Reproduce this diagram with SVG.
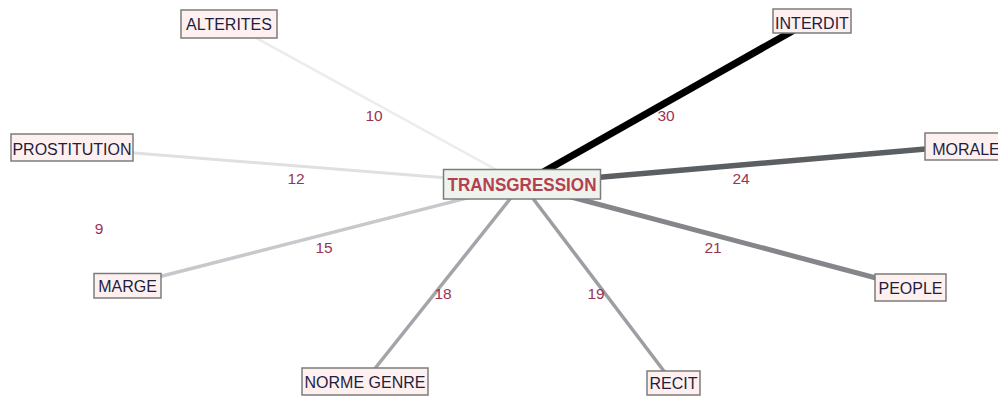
<svg xmlns="http://www.w3.org/2000/svg" width="998" height="396" viewBox="0 0 998 396">
<style>
.n rect{fill:#fff0f0;stroke:#7c7c7c;stroke-width:1.5}
.n text{font-family:"Liberation Sans",Arial,sans-serif;font-size:16px;fill:#1e1e40;text-anchor:middle}
.c text{font-family:"Liberation Sans",Arial,sans-serif;font-size:15.5px;fill:#993355;text-anchor:middle}
.c line{stroke-linecap:butt}
#n-trans rect{fill:#eef3ee}
#n-trans text{fill:#b5404e;font-weight:bold;font-size:18.5px}
</style>
<rect width="998" height="396" fill="#ffffff"/>
<g id="connectors" class="c">
<line x1="229" y1="23" x2="522" y2="184" stroke="#ececec" stroke-width="2.5"/>
<line x1="72" y1="148" x2="522" y2="184" stroke="#e0e0e0" stroke-width="3"/>
<line x1="127" y1="285" x2="522" y2="184" stroke="#c6c8cc" stroke-width="3.5"/>
<line x1="365" y1="381" x2="522" y2="184" stroke="#a4a4aa" stroke-width="3.5"/>
<line x1="673" y1="383" x2="522" y2="184" stroke="#9d9da3" stroke-width="3.5"/>
<line x1="910" y1="287" x2="522" y2="184" stroke="#85858a" stroke-width="5"/>
<line x1="960" y1="146" x2="522" y2="184" stroke="#5c5f62" stroke-width="5.5"/>
<line x1="812" y1="20" x2="522" y2="184" stroke="#000000" stroke-width="7"/>
<text x="374" y="121">10</text>
<text x="666" y="121">30</text>
<text x="296" y="184">12</text>
<text x="741" y="184">24</text>
<text x="99" y="234">9</text>
<text x="324" y="253">15</text>
<text x="713" y="253">21</text>
<text x="443" y="299">18</text>
<text x="596" y="299">19</text>
</g>
<g id="n-alterites" class="n"><rect x="181" y="10" width="96" height="28"/><text x="229" y="30">ALTERITES</text></g>
<g id="n-interdit" class="n"><rect x="773" y="9" width="78" height="24"/><text x="812" y="29">INTERDIT</text></g>
<g id="n-prostitution" class="n"><rect x="11" y="134" width="122" height="27"/><text x="72" y="155">PROSTITUTION</text></g>
<g id="n-morale" class="n"><rect x="925" y="133" width="90" height="27"/><text x="966" y="155">MORALE</text></g>
<g id="n-marge" class="n"><rect x="94" y="273.5" width="67" height="24.5"/><text x="127.5" y="292">MARGE</text></g>
<g id="n-normegenre" class="n"><rect x="302" y="368" width="126" height="27"/><text x="365" y="388">NORME GENRE</text></g>
<g id="n-recit" class="n"><rect x="647" y="371" width="53" height="24"/><text x="673.5" y="389">RECIT</text></g>
<g id="n-people" class="n"><rect x="875" y="274" width="71" height="27"/><text x="910.5" y="294">PEOPLE</text></g>
<g id="n-trans" class="n"><rect x="443.5" y="169.5" width="157" height="29.5"/><text x="522" y="191" textLength="149" lengthAdjust="spacingAndGlyphs">TRANSGRESSION</text></g>
</svg>
